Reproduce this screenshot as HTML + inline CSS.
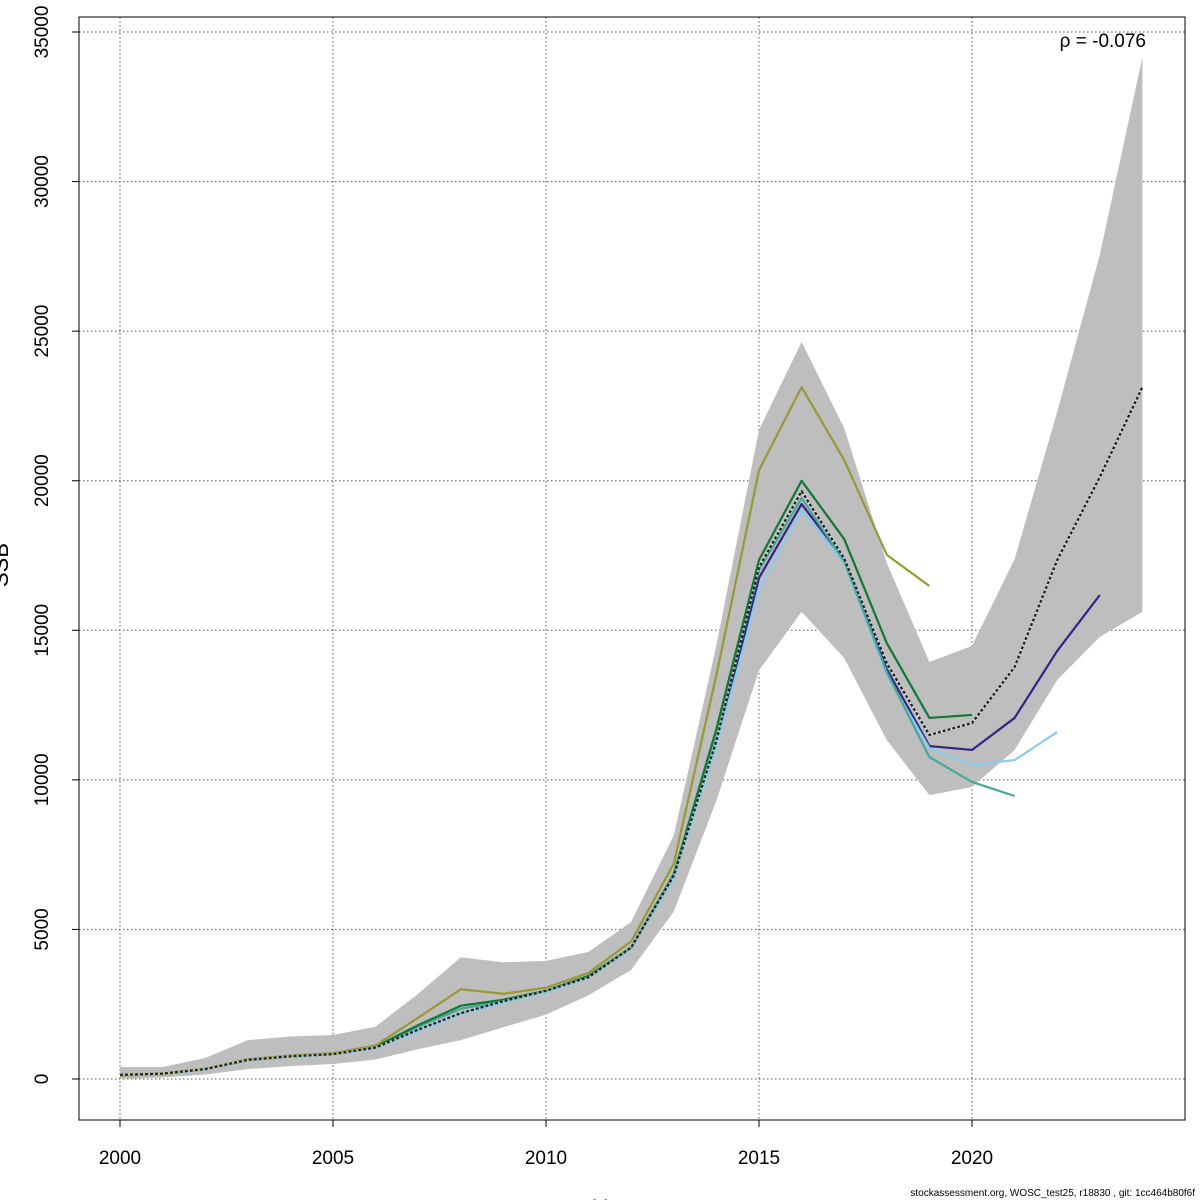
<!DOCTYPE html>
<html><head><meta charset="utf-8"><style>
html,body{margin:0;padding:0;background:#fff;}
svg{display:block;font-family:"Liberation Sans",sans-serif;}
</style></head><body>
<svg id="chart" width="1200" height="1200" viewBox="0 0 1200 1200">
<rect x="0" y="0" width="1200" height="1200" fill="#fff"/>
<g id="grid"></g>
<g id="band"></g>
<g id="lines"></g>
<rect x="79" y="17" width="1106" height="1103" fill="none" stroke="#000" stroke-width="1"/>
<g id="axes"></g>
<text x="1146" y="47" font-size="19" text-anchor="end">ρ = -0.076</text>
<text x="8" y="565" font-size="22" text-anchor="middle" transform="rotate(-90 8 565)">SSB</text>
<text x="615" y="1215" font-size="22" text-anchor="middle">Year</text>
<text x="1195" y="1196" font-size="10" text-anchor="end">stockassessment.org, WOSC_test25, r18830 , git: 1cc464b80f6f</text>
</svg>
<script>
const years = [2000,2001,2002,2003,2004,2005,2006,2007,2008,2009,2010,2011,2012,2013,2014,2015,2016,2017,2018,2019,2020,2021,2022,2023,2024];
const ssbEstimate = [140,180,330,640,760,830,1050,1650,2200,2600,2950,3400,4400,6800,11300,17100,19650,17400,13900,11500,11900,13770,17350,20120,23130];
const ssbUpper = [400,400,700,1300,1420,1470,1750,2850,4070,3900,3950,4250,5250,8150,14500,21700,24640,21760,17250,13940,14480,17380,22300,27550,34160];
const ssbLower = [0,50,150,330,430,500,650,1000,1300,1730,2150,2800,3650,5600,9300,13660,15620,14070,11330,9490,9760,11000,13340,14780,15620];
const retro2019 = [110,170,340,660,780,860,1120,2050,3000,2850,3050,3550,4600,7200,13500,20350,23130,20690,17520,16480];
const retro2020 = [130,180,340,650,780,850,1080,1800,2450,2650,2950,3450,4400,6850,11700,17350,20000,18050,14570,12070,12170];
const retro2021 = [130,170,330,630,760,840,1060,1750,2350,2600,2950,3420,4380,6800,11400,17010,19420,17300,13600,10760,9930,9460];
const retro2022 = [120,170,320,620,750,820,1020,1600,2150,2550,2900,3380,4350,6700,11100,16350,19020,17250,13500,11060,10500,10660,11600];
const retro2023 = [130,170,330,630,750,830,1040,1620,2180,2580,2930,3400,4380,6750,11200,16750,19220,17350,13700,11130,11000,12070,14310,16180];
const yTicks = [0,5000,10000,15000,20000,25000,30000,35000];
const xTicks = [2000,2005,2010,2015,2020];

const X = y => 120 + (y - 2000) * 42.6;
const Y = v => 1079 - v * (1047 / 35000);
const NS = "http://www.w3.org/2000/svg";
function mk(tag, attrs, parent){const e=document.createElementNS(NS,tag);for(const k in attrs)e.setAttribute(k,attrs[k]);parent.appendChild(e);return e;}
const grid=document.getElementById('grid'), axes=document.getElementById('axes');
yTicks.forEach(t=>{
  const l=mk('line',{x1:79,x2:1185,y1:Y(t),y2:Y(t),stroke:'#555','stroke-width':1,'stroke-dasharray':'1.5,2.5'},grid);
  
  
  const tk=mk('line',{x1:72,x2:79,y1:Y(t),y2:Y(t),stroke:'#000'},axes);
  
  
  const tx=mk('text',{x:48,y:Y(t),'font-size':19,'text-anchor':'middle',transform:`rotate(-90 48 ${Y(t)})`},axes);
  tx.textContent=t;
  
  
});
xTicks.forEach(t=>{
  const l=mk('line',{x1:X(t),x2:X(t),y1:17,y2:1120,stroke:'#555','stroke-width':1,'stroke-dasharray':'1.5,2.5'},grid);
  
  
  const tk=mk('line',{x1:X(t),x2:X(t),y1:1120,y2:1127,stroke:'#000'},axes);
  
  
  const tx=mk('text',{x:X(t),y:1164,'font-size':19,'text-anchor':'middle'},axes);
  tx.textContent=t;
  
  
});
const bandPts = years.map((y,i)=>`${X(y)},${Y(ssbUpper[i])}`).concat(years.slice().reverse().map((y,j)=>`${X(y)},${Y(ssbLower[years.length-1-j])}`));
const poly=mk('polygon',{points:bandPts.join(' '),fill:'#bebebe',stroke:'none'},document.getElementById('band'));


const lines=document.getElementById('lines');
function drawLine(vals,color,name,dash){
  const pts=vals.map((v,i)=>`${X(years[i])},${Y(v)}`).join(' ');
  const p=mk('polyline',{points:pts,fill:'none',stroke:color,'stroke-width':2.2,'stroke-linejoin':'round'},lines);
  if(dash)p.setAttribute('stroke-dasharray',dash);
  
  
  return p;
}
drawLine(retro2023,'#332288','retro-line-2023');
drawLine(retro2022,'#88CCEE','retro-line-2022');
drawLine(retro2021,'#44AA99','retro-line-2021');
drawLine(retro2020,'#117733','retro-line-2020');
drawLine(retro2019,'#999933','retro-line-2019');
const bw=drawLine(ssbEstimate,'#ffffff','estimate-line-bg');
bw.setAttribute('stroke-opacity','0.5');
drawLine(ssbEstimate,'#222','estimate-line','3,2');
</script>
</body></html>
